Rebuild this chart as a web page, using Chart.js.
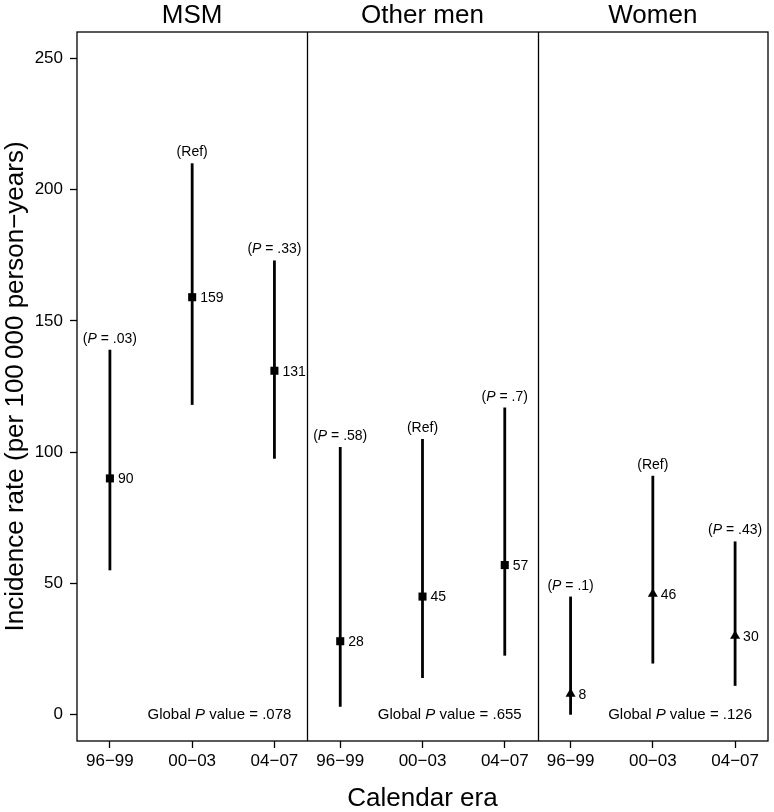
<!DOCTYPE html>
<html>
<head>
<meta charset="utf-8">
<script src="https://cdn.jsdelivr.net/npm/chart.js@4"></script>
<style>
  html, body { margin: 0; padding: 0; background: #fff; }
  #wrap { width: 774px; height: 812px; }
</style>
</head>
<body>
<div id="wrap"><canvas id="rateChart" width="774" height="812"></canvas></div>
<script>
// data
const eras = ["96\u221299", "00\u221203", "04\u221207"];
const groups = ["MSM", "Other men", "Women"];
const msmRate = [90, 159, 131];
const msmLower = [55, 118, 97.5];
const msmUpper = [139, 210, 173];
const otherRate = [28, 45, 57];
const otherLower = [3, 14, 22.5];
const otherUpper = [102, 105, 117];
const womenRate = [8, 46, 30];
const womenLower = [0, 19.5, 11];
const womenUpper = [45, 91, 66];
// null = reference era
const msmP = [".03", null, ".33"];
const otherP = [".58", null, ".7"];
const womenP = [".1", null, ".43"];
const globalP = [".078", ".655", ".126"];
const yTicks = [0, 50, 100, 150, 200, 250];

const rates = [msmRate, otherRate, womenRate];
const lowers = [msmLower, otherLower, womenLower];
const uppers = [msmUpper, otherUpper, womenUpper];
const pVals = [msmP, otherP, womenP];
const markers = ["rect", "rect", "triangle"];

// each panel is 2.8 units wide, eras 1 unit apart
const panelOffset = [0, 2.8, 5.6];
const xPos = (g, i) => panelOffset[g] + i;

const FONT = "'Liberation Sans', Arial, Helvetica, sans-serif";

// text with an italic P in the middle
function drawMixed(ctx, parts, x, y, align) {
  let total = 0;
  const widths = parts.map(p => {
    ctx.font = (p.italic ? "italic " : "") + p.size + "px " + FONT;
    const w = ctx.measureText(p.text).width;
    total += w;
    return w;
  });
  let cx = align === "center" ? x - total / 2 : align === "right" ? x - total : x;
  ctx.textAlign = "left";
  parts.forEach((p, k) => {
    ctx.font = (p.italic ? "italic " : "") + p.size + "px " + FONT;
    ctx.fillText(p.text, cx, y);
    cx += widths[k];
  });
}

const panelPlugin = {
  id: "panels",
  beforeDatasetsDraw(chart) {
    const ctx = chart.ctx;
    const xs = chart.scales.x, ys = chart.scales.y;
    const area = chart.chartArea;
    ctx.save();
    // frame and dividers
    ctx.strokeStyle = "#000";
    ctx.lineWidth = 1.3;
    ctx.strokeRect(area.left, area.top, area.right - area.left, area.bottom - area.top);
    [2.4, 5.2].forEach(v => {
      const px = Math.round(xs.getPixelForValue(v)) + 0.5;
      ctx.beginPath();
      ctx.moveTo(px, area.top);
      ctx.lineTo(px, area.bottom);
      ctx.stroke();
    });
    // error bars
    ctx.lineWidth = 2.8;
    groups.forEach((g, gi) => {
      eras.forEach((e, i) => {
        const px = xs.getPixelForValue(xPos(gi, i));
        ctx.beginPath();
        ctx.moveTo(px, ys.getPixelForValue(lowers[gi][i]));
        ctx.lineTo(px, ys.getPixelForValue(uppers[gi][i]));
        ctx.stroke();
      });
    });
    ctx.restore();
  },
  afterDatasetsDraw(chart) {
    const ctx = chart.ctx;
    const xs = chart.scales.x, ys = chart.scales.y;
    ctx.save();
    ctx.fillStyle = "#000";
    groups.forEach((g, gi) => {
      const left = xs.getPixelForValue(panelOffset[gi] - 0.4);
      const right = xs.getPixelForValue(panelOffset[gi] + 2.4);
      // panel title
      ctx.font = "26px " + FONT;
      ctx.textAlign = "center";
      ctx.textBaseline = "alphabetic";
      ctx.fillText(g, (left + right) / 2, 23);

      eras.forEach((e, i) => {
        const px = xs.getPixelForValue(xPos(gi, i));
        // value label
        ctx.font = "14px " + FONT;
        ctx.textAlign = "left";
        ctx.textBaseline = "middle";
        ctx.fillText(String(rates[gi][i]), px + 8, ys.getPixelForValue(rates[gi][i]) + 1);
        // P label above the bar
        const ty = ys.getPixelForValue(uppers[gi][i]) - 7;
        ctx.textBaseline = "alphabetic";
        const p = pVals[gi][i];
        if (p === null) {
          drawMixed(ctx, [{ text: "(Ref)", size: 14 }], px, ty, "center");
        } else {
          drawMixed(ctx, [
            { text: "(", size: 14 },
            { text: "P", size: 14, italic: true },
            { text: " = " + p + ")", size: 14 }
          ], px, ty, "center");
        }
      });
      // global P value
      ctx.textBaseline = "middle";
      drawMixed(ctx, [
        { text: "Global ", size: 15 },
        { text: "P", size: 15, italic: true },
        { text: " value = " + globalP[gi], size: 15 }
      ], right - 16, ys.getPixelForValue(0), "right");
    });
    ctx.restore();
  }
};

const datasets = groups.map((g, gi) => ({
  label: g,
  data: rates[gi].map((v, i) => ({ x: xPos(gi, i), y: v })),
  pointStyle: markers[gi],
  pointRadius: markers[gi] === "rect" ? 5.7 : 5.8,
  pointHoverRadius: 6,
  backgroundColor: "#000",
  borderColor: "#000",
  borderWidth: 0,
  showLine: false
}));

const xTickValues = [];
groups.forEach((g, gi) => eras.forEach((e, i) => xTickValues.push(xPos(gi, i))));

var rateChart = new Chart(document.getElementById("rateChart").getContext("2d"), {
  type: "scatter",
  data: { datasets: datasets },
  plugins: [panelPlugin],
  options: {
    responsive: false,
    animation: false,
    layout: { padding: { top: 32, right: 4, left: 0, bottom: 0 } },
    plugins: {
      legend: { display: false },
      tooltip: { enabled: false }
    },
    scales: {
      x: {
        type: "linear",
        min: -0.4,
        max: 8.0,
        afterBuildTicks: scale => {
          scale.ticks = xTickValues.map(v => ({ value: v }));
        },
        afterFit: scale => { scale.height = 71; },
        ticks: {
          autoSkip: false,
          maxRotation: 0,
          padding: 3,
          color: "#000",
          font: { family: FONT, size: 17 },
          callback: (value, index) => eras[index % 3]
        },
        grid: {
          drawOnChartArea: false,
          drawTicks: true,
          tickLength: 7,
          tickColor: "#000",
          tickWidth: 1.3
        },
        border: { display: false },
        title: {
          display: true,
          text: "Calendar era",
          color: "#000",
          font: { family: FONT, size: 26, lineHeight: 1 },
          padding: { top: 0, bottom: 0 }
        }
      },
      y: {
        min: -10,
        max: 260,
        afterBuildTicks: scale => {
          scale.ticks = yTicks.map(v => ({ value: v }));
        },
        afterFit: scale => { scale.width = 77; },
        ticks: {
          padding: 7,
          color: "#000",
          font: { family: FONT, size: 17 }
        },
        grid: {
          drawOnChartArea: false,
          drawTicks: true,
          tickLength: 7,
          tickColor: "#000",
          tickWidth: 1.3
        },
        border: { display: false },
        title: {
          display: true,
          text: "Incidence rate (per 100\u2009000 person\u2212years)",
          color: "#000",
          font: { family: FONT, size: 26, lineHeight: 1 },
          padding: { top: 3, bottom: 0 }
        }
      }
    }
  }
});
</script>
</body>
</html>
